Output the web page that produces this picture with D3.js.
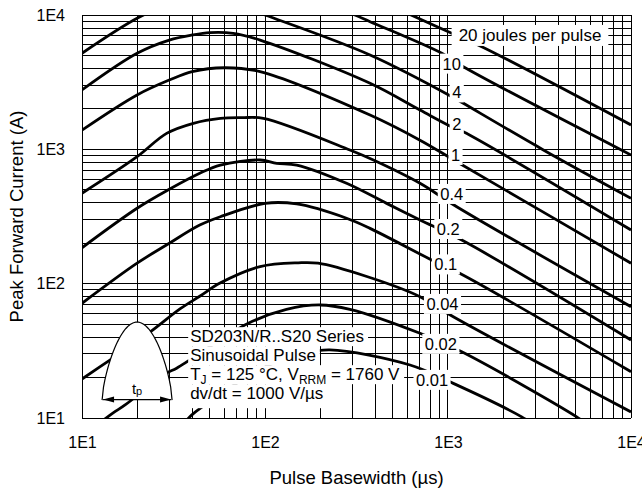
<!DOCTYPE html>
<html>
<head>
<meta charset="utf-8">
<script src="https://cdn.jsdelivr.net/npm/d3@7"></script>
<style>
  body { margin: 0; background: #fff; }
  svg { display: block; font-family: "Liberation Sans", Arial, Helvetica, sans-serif; }
</style>
</head>
<body>
<div id="chart"></div>
<script>
// axis ticks (log decades)
const tickValues = [10, 100, 1000, 10000];
const tickLabels = ["1E1", "1E2", "1E3", "1E4"];

// energy levels (joules per pulse), label text and label anchor [µs, A]
const energies = ["20", "10", "4", "2", "1", "0.4", "0.2", "0.1", "0.04", "0.02", "0.01"];
const labelText = ["20 joules per pulse", "10", "4", "2", "1", "0.4", "0.2", "0.1", "0.04", "0.02", "0.01"];
const labelAt = [[2806, 7097], [1048, 4340], [1116, 2649], [1116, 1530], [1099, 907], [1048, 465],
                 [1004, 255], [973, 139], [933, 70.6], [914, 35.6], [818, 19.2]];

// curves: [pulse basewidth (µs), peak forward current (A)]
const curve20 = [[520, 11300], [628, 10000], [1048, 7310], [1530, 5810], [10000, 1520]];
const curve10 = [[260, 11000], [310, 10000], [375, 8920], [925, 5190], [1213, 4120], [10000, 908]];
const curve4 = [[10, 5190], [20, 9450], [30, 12000], [45, 13000], [65, 12300], [100, 10000], [375, 5040],
                [1048, 2470], [1213, 2200], [3320, 990], [10000, 432]];
const curve2 = [[10, 2770], [20, 5190], [30, 6510], [40, 7100], [50, 7400], [67, 7310], [94, 6510],
                [375, 3100], [703, 1960], [1048, 1470], [1213, 1350], [10000, 251]];
const curve1 = [[10, 1390], [20, 2540], [30, 3280], [40, 3790], [60, 4050], [94, 3790], [375, 1800],
                [703, 1170], [1116, 809], [10000, 142]];
const curve04 = [[10, 471], [20, 881], [29, 1315], [40.6, 1563], [57, 1700], [75, 1720], [98, 1700],
                 [291, 989], [391, 833], [703, 559], [1116, 374], [10000, 67.4]];
const curve02 = [[10, 185], [20, 364], [30, 504], [44, 663], [57, 764], [94, 833], [116, 787], [149, 764],
                 [279, 559], [462, 396], [703, 298], [1189, 211], [10000, 38.1]];
const curve01 = [[10, 71.4], [20, 142], [30, 200], [44, 273], [57, 315], [100, 396], [149, 392],
                 [279, 307], [375, 258], [815, 150], [1164, 119], [10000, 22.1]];
const curve004 = [[10, 19.5], [14.2, 27], [23.6, 43.7], [34.3, 64.8], [44.2, 80.9], [56.8, 101], [94, 134],
                  [152, 143], [195, 142], [360, 113], [703, 80], [1069, 56.7], [10000, 11.1]];
const curve002 = [[12.5, 9.2], [14.8, 10.9], [17.2, 12.5], [29, 21.6], [32.9, 23.5], [81.1, 50.7], [131, 64.4],
                  [200, 69.4], [291, 64.4], [703, 42.7], [1189, 31.1], [5049, 10.2], [5600, 9.2]];
const curve001 = [[37, 9.5], [39.7, 10.5], [44.2, 11.8], [100, 24], [160, 30], [226, 32.1], [620, 24.8],
                  [1069, 18.1], [2529, 10.2], [2800, 9.3]];
const curves = [curve20, curve10, curve4, curve2, curve1, curve04, curve02, curve01, curve004, curve002, curve001];

// note text
const noteLines = ["SD203N/R..S20 Series", "Sinusoidal Pulse", "T_J = 125 °C, V_RRM = 1760 V", "dv/dt = 1000 V/µs"];

const width = 642;
const height = 491;
const margin = { left: 82, right: 11, top: 15, bottom: 73 };

const svg = d3.select("#chart").append("svg").attr("width", width).attr("height", height);

const x = d3.scaleLog().domain([10, 10000]).range([margin.left, width - margin.right]);
const y = d3.scaleLog().domain([10, 10000]).range([height - margin.bottom, margin.top]);

// grid values 1..9 per decade
const gridVals = [];
[10, 100, 1000].forEach(d => d3.range(1, 10).forEach(k => gridVals.push(k * d)));
gridVals.push(10000);

const px = v => Math.round(v) + 0.5;

svg.append("defs").append("clipPath").attr("id", "plot-clip")
  .append("rect")
  .attr("x", x(10)).attr("y", y(10000))
  .attr("width", x(10000) - x(10)).attr("height", y(10) - y(10000));

const grid = svg.append("g").attr("stroke", "#000").attr("stroke-width", 1).attr("shape-rendering", "crispEdges");
grid.selectAll("line.v").data(gridVals).enter().append("line").attr("class", "v")
  .attr("x1", d => px(x(d) - 0.5)).attr("x2", d => px(x(d) - 0.5))
  .attr("y1", y(10000)).attr("y2", y(10));
grid.selectAll("line.h").data(gridVals).enter().append("line").attr("class", "h")
  .attr("y1", d => px(y(d) - 0.5)).attr("y2", d => px(y(d) - 0.5))
  .attr("x1", x(10)).attr("x2", x(10000));

// curves
const line = d3.line().x(d => x(d[0])).y(d => y(d[1])).curve(d3.curveCatmullRom.alpha(0.5));
svg.append("g").attr("clip-path", "url(#plot-clip)")
  .selectAll("path").data(curves).enter().append("path")
  .attr("d", line)
  .attr("fill", "none").attr("stroke", "#000").attr("stroke-width", 2.8)
  .attr("stroke-linecap", "butt");

// curve labels with white boxes
const fs = 16.5;
const labels = svg.append("g");
labelText.forEach((t, i) => {
  const g = labels.append("g");
  const cx = x(labelAt[i][0]);
  const cy = y(labelAt[i][1]);
  const txt = g.append("text").attr("x", cx).attr("y", cy + 0.36 * fs)
    .attr("text-anchor", "middle").attr("font-size", i === 0 ? 17 : fs).attr("fill", "#000").text(t);
  const bb = txt.node().getBBox();
  const padX = i === 0 ? 7 : 2.5;
  g.insert("rect", "text")
    .attr("x", bb.x - padX).attr("y", bb.y - 1)
    .attr("width", bb.width + 2 * padX).attr("height", bb.height + 2)
    .attr("fill", "#fff");
});

// note block
const noteX = x(39);
const noteY = y(37);
const lineH = 19;
const note = svg.append("g");
noteLines.forEach((s, i) => {
  const g = note.append("g");
  const t = g.append("text").attr("x", noteX).attr("y", noteY + i * lineH)
    .attr("font-size", 17).attr("fill", "#000");
  s.split(/(_[A-Z]+)/).forEach(part => {
    if (part.startsWith("_")) {
      t.append("tspan").attr("font-size", 12).attr("baseline-shift", "-4").text(part.slice(1));
    } else if (part.length) {
      t.append("tspan").text(part);
    }
  });
  const bb = t.node().getBBox();
  const top = noteY + i * lineH - 14.5;
  const h = i === noteLines.length - 1 ? 24 : lineH;
  g.insert("rect", "text").attr("x", noteX - 2).attr("y", top)
    .attr("width", bb.width + 6).attr("height", h).attr("fill", "#fff");
});

// pulse shape icon
const iconX = x(20);
const iconY = y(13.6);
const halfW = 35, iconH = 78;
const shape = d3.range(0, 1.0001, 0.02).map(u => [iconX - halfW + 2 * halfW * u, iconY - iconH * Math.pow(Math.sin(Math.PI * u), 0.65)]);
const icon = svg.append("g");
icon.append("path").attr("d", d3.line()(shape))
  .attr("fill", "#fff").attr("stroke", "#000").attr("stroke-width", 1.2);
icon.append("line").attr("x1", iconX - halfW + 1).attr("x2", iconX + halfW - 1)
  .attr("y1", iconY - 0.5).attr("y2", iconY - 0.5).attr("stroke", "#000").attr("stroke-width", 1.2);
[-1, 1].forEach(s => {
  const tip = iconX + s * (halfW - 1);
  icon.append("path")
    .attr("d", `M${tip},${iconY - 0.5} L${tip - s * 11},${iconY - 3.5} L${tip - s * 11},${iconY + 2.5} Z`)
    .attr("fill", "#000");
});
const tp = icon.append("text").attr("x", iconX).attr("y", iconY - 6).attr("text-anchor", "middle")
  .attr("font-size", 15).attr("fill", "#000");
tp.append("tspan").text("t");
tp.append("tspan").attr("font-size", 11).attr("dy", 1).text("p");

// axes
const xAxis = d3.axisBottom(x).tickValues(tickValues).tickSize(0).tickPadding(0)
  .tickFormat((d, i) => tickLabels[i]);
svg.append("g").attr("transform", `translate(0, ${y(10)})`).call(xAxis)
  .call(g => g.select(".domain").remove())
  .selectAll("text").attr("font-size", 16).attr("fill", "#000").attr("font-family", null)
  .attr("dy", null).attr("y", 30);

const yAxis = d3.axisLeft(y).tickValues(tickValues).tickSize(0).tickPadding(17)
  .tickFormat((d, i) => tickLabels[i]);
svg.append("g").attr("transform", `translate(${x(10)}, 0)`).call(yAxis)
  .call(g => g.select(".domain").remove())
  .selectAll("text").attr("font-size", 16).attr("fill", "#000").attr("font-family", null);

// axis titles
svg.append("text").attr("x", (x(10) + x(10000)) / 2).attr("y", 484).attr("text-anchor", "middle")
  .attr("font-size", 18.5).text("Pulse Basewidth (µs)");
svg.append("text").attr("transform", `translate(23, ${(y(10) + y(10000)) / 2}) rotate(-90)`)
  .attr("text-anchor", "middle").attr("font-size", 18.5).text("Peak Forward Current (A)");
</script>
</body>
</html>
